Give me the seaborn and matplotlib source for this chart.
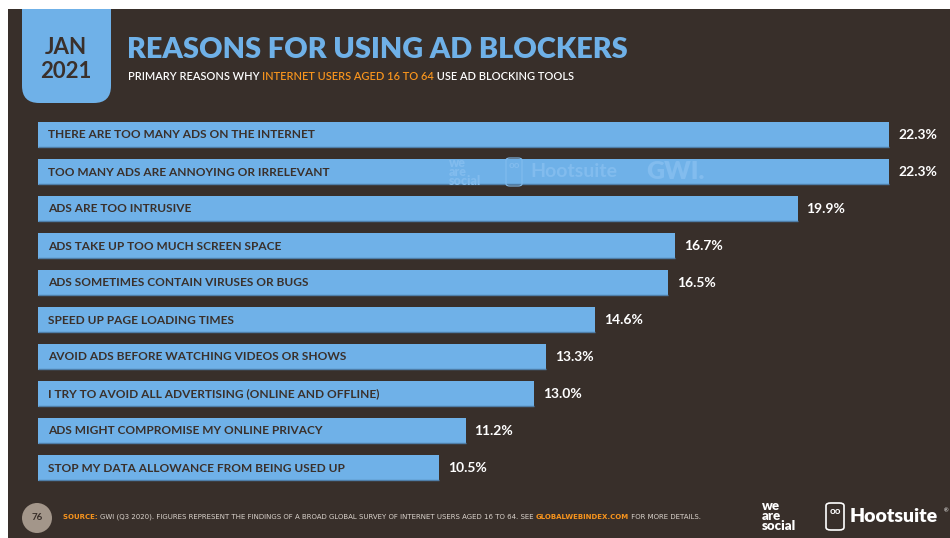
import matplotlib
matplotlib.use("Agg")
import matplotlib.pyplot as plt
from matplotlib.patches import Rectangle, FancyBboxPatch, Ellipse
import seaborn as sns
import pandas as pd

# Survey data
reasons = [
    "THERE ARE TOO MANY ADS ON THE INTERNET",
    "TOO MANY ADS ARE ANNOYING OR IRRELEVANT",
    "ADS ARE TOO INTRUSIVE",
    "ADS TAKE UP TOO MUCH SCREEN SPACE",
    "ADS SOMETIMES CONTAIN VIRUSES OR BUGS",
    "SPEED UP PAGE LOADING TIMES",
    "AVOID ADS BEFORE WATCHING VIDEOS OR SHOWS",
    "I TRY TO AVOID ALL ADVERTISING (ONLINE AND OFFLINE)",
    "ADS MIGHT COMPROMISE MY ONLINE PRIVACY",
    "STOP MY DATA ALLOWANCE FROM BEING USED UP",
]
shares = [22.3, 22.3, 19.9, 16.7, 16.5, 14.6, 13.3, 13.0, 11.2, 10.5]

BG = "#382f2a"
BLUE = "#6fb1e8"
DARK = "#3a302b"
ORANGE = "#f7941d"
W, H = 950, 538

sns.set_theme(style="white")
plt.rcParams["font.family"] = ["Lato", "DejaVu Sans"]

fig = plt.figure(figsize=(W / 100, H / 100), dpi=100, facecolor="white")


def fx(x):
    return x / W


def fy(y):
    return 1 - y / H


# dark panel
panel = Rectangle((fx(8), 0), 1 - fx(8), fy(9), transform=fig.transFigure,
                  facecolor=BG, edgecolor="none", zorder=-2)
fig.patches.append(panel)

# date tab with rounded lower corners
tab = FancyBboxPatch((fx(22), fy(103)), fx(111) - fx(22), fy(-30) - fy(103),
                     boxstyle="round,pad=0,rounding_size=0.018",
                     transform=fig.transFigure, facecolor=BLUE, edgecolor="none",
                     zorder=-1, mutation_aspect=W / H)
fig.patches.append(tab)
tab.set_clip_path(panel)

fig.text(fx(66), fy(47), "JAN", ha="center", va="center", fontsize=16,
         fontweight="bold", color=DARK)
fig.text(fx(66), fy(72), "2021", ha="center", va="center", fontsize=16,
         fontweight="bold", color=DARK)

# headings
fig.text(fx(127), fy(50), "REASONS FOR USING AD BLOCKERS", ha="left", va="center",
         fontsize=20.8, fontweight="heavy", color=BLUE)
sub_y = fy(76)
t1 = fig.text(fx(128), sub_y, "PRIMARY REASONS WHY ", ha="left", va="center",
              fontsize=7.9, color="white", fontweight="semibold")
fig.canvas.draw()
r = fig.canvas.get_renderer()
bb = t1.get_window_extent(r)
t2 = fig.text(bb.x1 / W, sub_y, "INTERNET USERS AGED 16 TO 64", ha="left",
              va="center", fontsize=7.9, color=ORANGE, fontweight="semibold")
bb = t2.get_window_extent(r)
fig.text(bb.x1 / W, sub_y, " USE AD BLOCKING TOOLS", ha="left", va="center",
         fontsize=7.9, color="white", fontweight="semibold")

# bars
ax = fig.add_axes([fx(38), fy(486.5), fx(935) - fx(38), (486.5 - 116.5) / H])
ax.set_facecolor("none")
df = pd.DataFrame({"reason": reasons, "share": shares})
sns.barplot(data=df, x="share", y="reason", orient="h", color=BLUE,
            saturation=1, width=0.68, ax=ax, zorder=2, edgecolor="none",
            linewidth=0)
ax.set_xlim(0, 23.5)
ax.set_ylim(len(reasons) - 0.5, -0.5)
ax.set_xticks([])
ax.set_yticks([])
ax.set_xlabel("")
ax.set_ylabel("")
for s in ax.spines.values():
    s.set_visible(False)

px_per_unit = (935 - 38) / 23.5
for i, (lab, v) in enumerate(zip(reasons, shares)):
    ax.hlines(i + 0.33, 0, v, color="#4f7ea8", lw=1.0, zorder=3)
    ax.text(10 / px_per_unit, i, lab, ha="left", va="center", fontsize=8.6,
            fontweight="bold", color=DARK, zorder=4)
    ax.text(v + 9 / px_per_unit, i, f"{v:.1f}%", ha="left", va="center",
            fontsize=10, fontweight="bold", color="white", zorder=4)

# faint watermark on the second bar
wm = "#82bcee"
fig.text(fx(449), fy(172), "we\nare\nsocial", fontsize=9, fontweight="heavy",
         color=wm, va="center", ha="left", linespacing=0.72, zorder=5)
fig.patches.append(FancyBboxPatch((fx(506), fy(186)), fx(16), (186 - 158) / H,
                                  boxstyle="round,pad=0,rounding_size=0.004",
                                  transform=fig.transFigure, facecolor="none",
                                  edgecolor=wm, lw=0.8, zorder=5))
fig.text(fx(514), fy(166), "oo", ha="center", va="center", fontsize=7,
         fontweight="bold", color=wm, zorder=5)
fig.text(fx(530), fy(172), "Hootsuite", fontsize=14, fontweight="bold", color=wm,
         va="center", zorder=5)
fig.text(fx(646), fy(172), "GWI.", fontsize=18, fontweight="heavy", color=wm,
         va="center", zorder=5)

# footer
fig.patches.append(Ellipse((fx(37), fy(518)), 30 / W, 30 / H, transform=fig.transFigure,
                           facecolor="#a3968a", edgecolor="none", zorder=2))
fig.text(fx(37), fy(518), "76", ha="center", va="center", fontsize=7,
         fontweight="bold", color=DARK)

foot_y = fy(517)
parts = [("SOURCE: ", ORANGE, "heavy"),
         ("GWI (Q3 2020). FIGURES REPRESENT THE FINDINGS OF A BROAD GLOBAL SURVEY OF "
          "INTERNET USERS AGED 16 TO 64. SEE ", "#d9d2cb", "normal"),
         ("GLOBALWEBINDEX.COM", ORANGE, "bold"),
         (" FOR MORE DETAILS.", "#d9d2cb", "normal")]
x0 = fx(63)
for txt, col, wt in parts:
    t = fig.text(x0, foot_y, txt, ha="left", va="center", fontsize=5, color=col,
                 fontweight=wt, family="DejaVu Sans")
    fig.canvas.draw()
    x0 = t.get_window_extent(fig.canvas.get_renderer()).x1 / W

fig.text(fx(762), fy(516), "we\nare\nsocial", ha="left", va="center", fontsize=9.5,
         fontweight="heavy", color="white", linespacing=0.85)
fig.patches.append(FancyBboxPatch((fx(826), fy(530)), fx(18), (530 - 503) / H,
                                  boxstyle="round,pad=0,rounding_size=0.005",
                                  transform=fig.transFigure, facecolor="none",
                                  edgecolor="white", lw=1.2, zorder=5))
fig.text(fx(835), fy(512), "oo", ha="center", va="center", fontsize=7,
         fontweight="bold", color="white", zorder=6)
fig.text(fx(850), fy(517), "Hootsuite", ha="left", va="center", fontsize=14,
         fontweight="heavy", color="white")
fig.text(fx(944), fy(511), "®", ha="left", va="center", fontsize=4, color="white")

fig.savefig("out.png", dpi=100, facecolor="white")
